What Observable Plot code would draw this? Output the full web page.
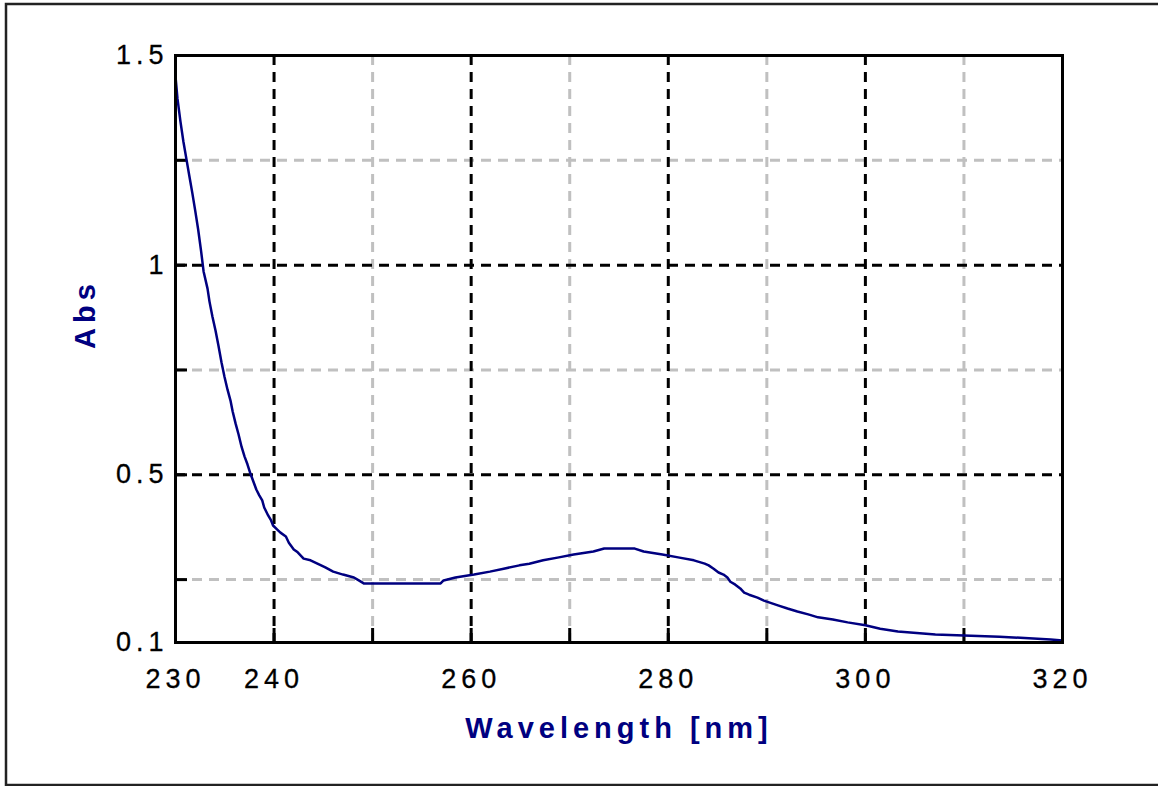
<!DOCTYPE html>
<html>
<head>
<meta charset="utf-8">
<script src="https://cdn.jsdelivr.net/npm/d3@7"></script>
<script src="https://cdn.jsdelivr.net/npm/@observablehq/plot@0.6"></script>
<style>
  html, body { margin: 0; padding: 0; background: #fff; }
  #chart { width: 1158px; height: 786px; }
</style>
</head>
<body>
<div id="chart"></div>
<script>
// Spectrum
const wavelength = [
  230.0, 230.2, 230.5, 230.8, 231.1, 231.4, 231.7, 232.0, 232.3, 232.6,
  232.85, 233.25, 233.45, 233.75, 234.06, 234.36, 234.67, 234.97, 235.28, 235.58,
  235.8, 236.1, 236.4, 236.7, 237.0, 237.3, 237.6, 237.9, 238.2, 238.5,
  238.8, 239.0, 239.4, 239.7, 239.9, 240.3, 240.65, 241.2, 241.5, 242.0,
  242.4, 243.0, 243.7, 244.4, 245.2, 246.0, 247.0, 248.1, 248.6, 249.1,
  256.9, 257.2, 258.4, 260.3, 261.9, 263.3, 264.9, 265.9, 267.3, 268.9,
  270.4, 272.4, 273.5, 276.6, 277.5, 279.4, 281.0, 282.6, 283.7, 284.1,
  284.6, 285.1, 285.6, 286.0, 286.3, 286.8, 287.3, 287.7, 288.2, 289.05,
  289.7, 290.3, 291.2, 292.1, 293.1, 294.2, 295.2, 296.7, 298.2, 300.0,
  301.5, 303.3, 307.1, 313.6, 318.8, 320.0
];
const absorbance = [
  1.450, 1.397, 1.343, 1.295, 1.254, 1.213, 1.173, 1.130, 1.085, 1.033,
  0.985, 0.944, 0.913, 0.877, 0.844, 0.808, 0.768, 0.734, 0.703, 0.677,
  0.651, 0.622, 0.596, 0.567, 0.544, 0.525, 0.503, 0.484, 0.465, 0.451,
  0.439, 0.422, 0.403, 0.391, 0.379, 0.370, 0.362, 0.353, 0.338, 0.322,
  0.315, 0.300, 0.296, 0.288, 0.279, 0.269, 0.262, 0.255, 0.248, 0.241,
  0.241, 0.248, 0.255, 0.262, 0.269, 0.276, 0.284, 0.288, 0.296, 0.303,
  0.310, 0.317, 0.324, 0.324, 0.317, 0.310, 0.303, 0.296, 0.288, 0.284,
  0.276, 0.267, 0.262, 0.255, 0.245, 0.238, 0.229, 0.219, 0.214, 0.207,
  0.200, 0.195, 0.188, 0.181, 0.174, 0.167, 0.160, 0.155, 0.148, 0.141,
  0.133, 0.126, 0.119, 0.114, 0.107, 0.105
];

const xTickLabels = [230, 240, 260, 280, 300, 320];
const yTickLabels = [0.1, 0.5, 1, 1.5];
const xMajorGrid = [240, 260, 280, 300];
const xMinorGrid = [250, 270, 290, 310];
const yMajorGrid = [0.5, 1];
const yMinorGrid = [0.25, 0.75, 1.25];
const xTickMarks = [240, 250, 260, 270, 280, 290, 300, 310];
const yTickMarks = [0.25, 0.5, 0.75, 1, 1.25];
const xTitle = "Wavelength [nm]";
const yTitle = "Abs";

const spectrum = wavelength.map((w, i) => ({ w, a: absorbance[i] }));

const W = 1158, H = 786;
const mL = 175, mR = 96, mT = 55, mB = 144;
const plotW = W - mL - mR, plotH = H - mT - mB;

const tickFont = "'Liberation Sans', Arial, sans-serif";
const navy = "#000080";

const chart = Plot.plot({
  width: W,
  height: H,
  marginLeft: mL,
  marginRight: mR,
  marginTop: mT,
  marginBottom: mB,
  style: { background: "#fff", fontFamily: tickFont, overflow: "visible" },
  x: { domain: [230, 320], axis: null },
  y: { domain: [0.1, 1.5], axis: null },
  marks: [
    Plot.ruleX(xMinorGrid, { stroke: "#c0c0c0", strokeWidth: 3, strokeDasharray: "10,7" }),
    Plot.ruleY(yMinorGrid, { stroke: "#c0c0c0", strokeWidth: 3, strokeDasharray: "10,7" }),
    Plot.ruleX(xMajorGrid, { stroke: "#000", strokeWidth: 3, strokeDasharray: "10,7" }),
    Plot.ruleY(yMajorGrid, { stroke: "#000", strokeWidth: 3, strokeDasharray: "10,7" }),
    Plot.ruleX(xTickMarks, { stroke: "#000", strokeWidth: 3, insetTop: plotH - 14 }),
    Plot.ruleY(yTickMarks, { stroke: "#000", strokeWidth: 3, insetRight: plotW - 12 }),
    Plot.line(spectrum, { x: "w", y: "a", stroke: navy, strokeWidth: 2.5, curve: "linear" }),
    Plot.frame({ stroke: "#000", strokeWidth: 3 }),
    Plot.text(xTickLabels, {
      x: d => d, frameAnchor: "bottom", lineAnchor: "middle", dy: 37, text: d => String(d),
      fontSize: 27, fill: "#000", stroke: "#000", strokeWidth: 0.3,
      textAnchor: "middle", className: "ticklabel"
    }),
    Plot.text(yTickLabels, {
      y: d => d, frameAnchor: "left", lineAnchor: "middle", dx: -7, text: d => String(d),
      fontSize: 27, fill: "#000", stroke: "#000", strokeWidth: 0.3,
      textAnchor: "end", className: "ticklabel ylab"
    }),
    Plot.text([xTitle], {
      frameAnchor: "bottom", lineAnchor: "middle", dy: 86, text: d => d,
      fontSize: 29, fontWeight: "bold", fill: navy, className: "axtitle"
    }),
    Plot.text([yTitle], {
      frameAnchor: "left", lineAnchor: "middle", dx: -90, rotate: -90, text: d => d,
      fontSize: 29, fontWeight: "bold", fill: navy, className: "axtitle"
    })
  ]
});

document.getElementById("chart").appendChild(chart);

const svg = d3.select(chart);
svg.selectAll(".ticklabel text").style("letter-spacing", "5px");
svg.selectAll(".axtitle text").style("letter-spacing", "5px");
svg.append("rect")
  .attr("x", 6).attr("y", 4)
  .attr("width", W + 10).attr("height", 781)
  .attr("fill", "none").attr("stroke", "#222").attr("stroke-width", 2.5);
</script>
</body>
</html>
